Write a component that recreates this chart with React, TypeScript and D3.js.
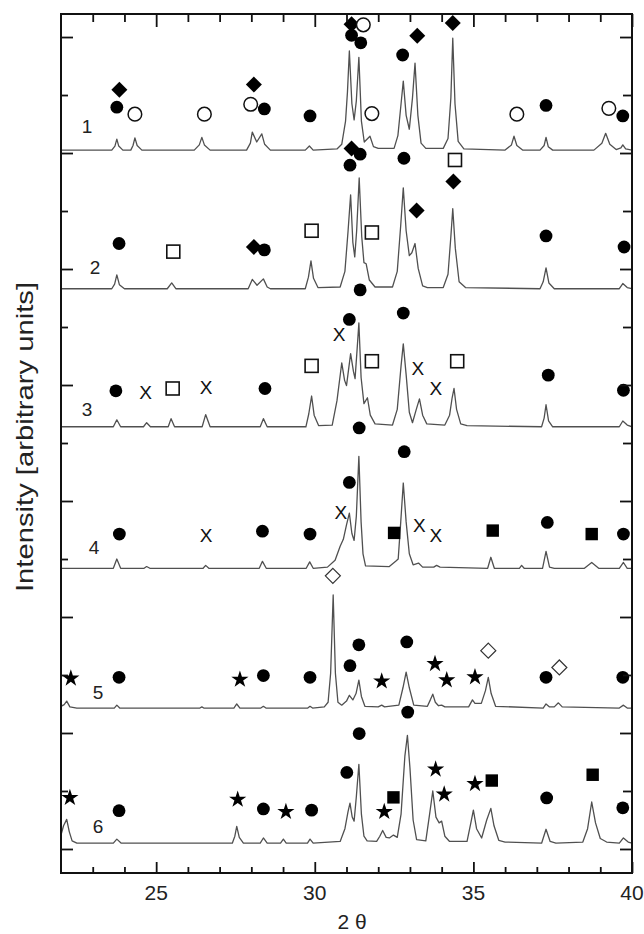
import React, { useEffect, useRef } from 'react';
import * as d3 from 'd3';

// 2 theta axis
const majorTicks = [25, 30, 35, 40];
const minorTicks = [23, 24, 26, 27, 28, 29, 31, 32, 33, 34, 36, 37, 38, 39];
const intensityTicks = d3.range(0, 15);

const sampleNames = ['1', '2', '3', '4', '5', '6'];
const sampleOffsets = [12.05, 9.66, 7.28, 4.84, 2.43, 0.10];
// where the sample number sits [2theta, level]
const sampleLabelPos = [[22.82, 12.45], [23.07, 10.02], [22.82, 7.57], [23.04, 5.19], [23.17, 2.69], [23.17, 0.38]];

// diffractograms, [2theta, intensity above own baseline]
const pattern1 = [
  [22.0, 0], [23.6, 0], [23.7, .07], [23.76, .19], [23.82, .07], [23.95, 0],
  [24.2, 0], [24.27, .08], [24.33, .21], [24.4, .08], [24.55, 0],
  [26.2, 0], [26.36, .09], [26.44, .22], [26.52, .09], [26.7, 0],
  [27.85, 0], [27.97, .12], [28.03, .31], [28.17, .14], [28.33, .28], [28.42, .1], [28.6, 0],
  [29.7, 0], [29.83, .07], [29.95, 0],
  [30.7, .02], [30.85, .1], [30.97, .5], [31.03, 1.0], [31.09, 1.71], [31.17, .8], [31.24, .52], [31.31, .85],
  [31.39, 1.6], [31.47, .5], [31.56, .14], [31.74, .24], [31.85, .06], [32.0, .03],
  [32.5, .03], [32.62, .25], [32.72, .8], [32.79, 1.19], [32.88, .6], [32.98, .36], [33.08, .9], [33.16, 1.5],
  [33.25, .6], [33.35, .12], [33.5, .03],
  [34.05, .03], [34.2, .2], [34.29, .9], [34.35, 1.93], [34.42, .8], [34.52, .15], [34.7, .02],
  [36.0, 0], [36.2, .09], [36.28, .24], [36.37, .08], [36.55, 0],
  [37.1, 0], [37.23, .08], [37.29, .22], [37.36, .06], [37.5, 0],
  [38.8, 0], [39.05, .12], [39.17, .29], [39.3, .1], [39.5, .01], [39.65, .04], [39.71, .09], [39.8, .02], [40, 0],
];
const pattern2 = [
  [22, 0], [23.6, 0], [23.69, .08], [23.76, .24], [23.84, .07], [24.0, 0],
  [25.35, 0], [25.49, .1], [25.62, 0],
  [27.9, 0], [28.03, .16], [28.18, .06], [28.38, .17], [28.5, .03], [28.6, 0],
  [29.7, 0], [29.8, .2], [29.88, .48], [29.96, .18], [30.1, .02],
  [30.8, .03], [30.95, .3], [31.05, 1.0], [31.13, 1.62], [31.2, .8], [31.26, .55], [31.32, 1.0], [31.4, 1.91],
  [31.48, .9], [31.55, .45], [31.62, .43], [31.72, .15], [31.9, .03],
  [32.45, .03], [32.6, .3], [32.71, 1.1], [32.79, 1.74], [32.88, 1.0], [32.98, .57], [33.06, .62], [33.16, .78],
  [33.26, .35], [33.4, .05], [33.55, .02],
  [34.05, .02], [34.2, .25], [34.29, .9], [34.35, 1.38], [34.43, .7], [34.55, .12], [34.75, .02],
  [37.1, 0], [37.2, .12], [37.29, .36], [37.38, .1], [37.55, 0],
  [39.6, 0], [39.71, .09], [39.85, .02], [40, 0],
];
const pattern3 = [
  [22, 0], [23.65, 0], [23.76, .12], [23.88, 0],
  [24.6, 0], [24.7, .07], [24.82, 0],
  [25.38, 0], [25.47, .14], [25.58, 0],
  [26.45, 0], [26.56, .21], [26.7, 0],
  [28.28, 0], [28.38, .14], [28.5, 0],
  [29.72, 0], [29.81, .22], [29.9, .53], [29.98, .2], [30.12, .02],
  [30.55, .03], [30.7, .45], [30.85, 1.1], [30.94, .8], [31.0, .71], [31.13, 1.26], [31.22, .95], [31.27, .83],
  [31.33, 1.3], [31.39, 1.79], [31.46, .85], [31.55, .4], [31.66, .5], [31.75, .2], [31.9, .05],
  [32.45, .03], [32.6, .3], [32.72, 1.05], [32.79, 1.43], [32.88, .9], [32.98, .25], [33.08, .07], [33.2, .3],
  [33.3, .48], [33.4, .2], [33.53, .05],
  [34.1, .03], [34.25, .2], [34.33, .5], [34.39, .66], [34.47, .3], [34.6, .05], [34.8, .02],
  [37.15, 0], [37.23, .15], [37.29, .38], [37.37, .1], [37.5, 0],
  [39.6, 0], [39.71, .1], [39.85, .03], [40, 0],
];
const pattern4 = [
  [22, 0], [23.65, 0], [23.76, .16], [23.88, 0],
  [24.62, 0], [24.7, .03], [24.8, 0],
  [26.48, 0], [26.56, .05], [26.66, 0],
  [28.25, 0], [28.35, .12], [28.47, 0],
  [29.73, 0], [29.84, .11], [29.95, 0],
  [30.4, .02], [30.64, .14], [30.8, .38], [30.9, .5], [31.0, .75], [31.09, .95], [31.17, .6], [31.24, .48],
  [31.31, .9], [31.39, 1.93], [31.46, .8], [31.52, .25], [31.6, .04],
  [32.35, .03], [32.55, .12], [32.63, .16], [32.71, .8], [32.79, 1.47], [32.88, .8], [32.98, .25], [33.1, .06],
  [33.27, .09], [33.4, .02],
  [33.75, .02], [33.84, .05], [33.95, .02],
  [35.45, 0], [35.55, .19], [35.66, 0],
  [36.45, 0], [36.52, .05], [36.6, 0],
  [37.18, 0], [37.29, .29], [37.4, .02], [37.55, 0],
  [38.5, 0], [38.73, .1], [38.95, 0],
  [39.6, 0], [39.73, .1], [39.85, 0], [40, 0],
];
const pattern5 = [
  [22, .03], [22.1, .06], [22.18, .12], [22.28, .02], [22.5, 0],
  [23.68, 0], [23.76, .05], [23.85, 0],
  [26.38, 0], [26.44, .02], [26.5, 0],
  [27.45, 0], [27.54, .07], [27.64, 0],
  [28.3, 0], [28.38, .03], [28.46, 0],
  [29.78, 0], [29.85, .03], [29.93, 0],
  [30.3, .02], [30.42, .1], [30.5, .6], [30.58, 1.95], [30.65, .6], [30.73, .1], [30.85, .05],
  [31.0, .12], [31.09, .22], [31.2, .14], [31.3, .25], [31.39, .48], [31.47, .2], [31.58, .03],
  [32.0, .02], [32.11, .05], [32.2, .02],
  [32.65, .05], [32.78, .35], [32.88, .62], [32.98, .35], [33.12, .05],
  [33.55, .03], [33.65, .15], [33.72, .24], [33.8, .1], [33.9, .04], [34.0, .05], [34.1, .02],
  [34.85, .02], [34.97, .14], [35.05, .08], [35.25, .08], [35.38, .3], [35.47, .53], [35.56, .25], [35.7, .03],
  [37.2, 0], [37.29, .07], [37.4, .02], [37.55, .02], [37.68, .09], [37.8, .02],
  [39.6, 0], [39.73, .05], [39.85, 0], [40, 0],
];
const pattern6 = [
  [22, .14], [22.08, .3], [22.18, .41], [22.26, .2], [22.35, .04], [22.5, 0],
  [23.65, 0], [23.76, .07], [23.9, 0],
  [27.4, 0], [27.48, .12], [27.54, .29], [27.62, .1], [27.75, 0],
  [28.28, 0], [28.38, .09], [28.5, 0],
  [28.92, 0], [29.01, .07], [29.1, 0],
  [29.77, 0], [29.85, .07], [29.95, 0],
  [30.8, .03], [30.95, .25], [31.05, .55], [31.11, .69], [31.18, .45], [31.24, .38], [31.31, .8], [31.39, 1.36],
  [31.47, .5], [31.55, .12], [31.65, .04],
  [31.95, .03], [32.05, .12], [32.14, .22], [32.25, .1], [32.35, .09], [32.48, .14], [32.6, .1],
  [32.72, .5], [32.84, 1.5], [32.92, 1.86], [33.0, 1.3], [33.1, .4], [33.21, .06],
  [33.5, .04], [33.62, .5], [33.72, .9], [33.82, .45], [33.92, .35], [34.0, .38], [34.1, .12], [34.25, .03],
  [34.8, .03], [34.92, .35], [35.0, .57], [35.1, .25], [35.26, .09], [35.42, .4], [35.55, .6], [35.65, .3],
  [35.8, .05], [36.0, .02],
  [37.15, 0], [37.29, .24], [37.42, .03], [37.6, 0],
  [38.45, .02], [38.6, .25], [38.73, .71], [38.85, .35], [39.0, .08], [39.2, .02],
  [39.6, 0], [39.73, .09], [39.88, .02], [40, 0],
];
const patterns = [pattern1, pattern2, pattern3, pattern4, pattern5, pattern6];

// phase markers [symbol, 2theta, level]
// fc filled circle, oc open circle, fd filled diamond, od open diamond,
// os open square, fs filled square, x cross, st star
const markers1 = [
  ['fd', 23.84, 13.09], ['fc', 23.76, 12.79], ['oc', 24.33, 12.67], ['oc', 26.52, 12.67],
  ['oc', 27.98, 12.84], ['fd', 28.08, 13.18], ['fc', 28.41, 12.76], ['fc', 29.85, 12.64],
  ['fd', 31.16, 14.22], ['fc', 31.16, 14.03], ['fc', 31.45, 13.90], ['oc', 31.53, 14.21],
  ['fc', 32.77, 13.69], ['fd', 33.23, 14.02], ['fd', 34.35, 14.24], ['oc', 31.80, 12.68],
  ['oc', 36.37, 12.67], ['fc', 37.29, 12.82], ['oc', 39.27, 12.77], ['fc', 39.71, 12.64],
];
const markers2 = [
  ['fc', 23.83, 10.44], ['os', 25.54, 10.30], ['fd', 28.08, 10.38], ['fc', 28.41, 10.33],
  ['os', 29.90, 10.66], ['fd', 31.16, 12.08], ['fc', 31.43, 11.98], ['fc', 31.11, 11.79],
  ['fc', 32.81, 11.91], ['os', 34.42, 11.88], ['fd', 34.37, 11.51], ['fd', 33.21, 11.01],
  ['os', 31.80, 10.63], ['fc', 37.29, 10.57], ['fc', 39.75, 10.38],
];
const markers3 = [
  ['fc', 31.43, 9.64], ['fc', 31.09, 9.13], ['fc', 32.79, 9.24], ['fc', 23.73, 7.90],
  ['x', 24.67, 7.87], ['os', 25.52, 7.94], ['x', 26.57, 7.96], ['fc', 28.43, 7.94],
  ['os', 29.90, 8.33], ['x', 30.77, 8.87], ['os', 31.80, 8.41], ['x', 33.25, 8.28],
  ['x', 33.82, 7.94], ['os', 34.49, 8.41], ['fc', 37.36, 8.17], ['fc', 39.73, 7.91],
];
const markers4 = [
  ['fc', 31.40, 7.26], ['fc', 32.82, 6.85], ['fc', 31.09, 6.32], ['x', 30.82, 5.80],
  ['fs', 32.50, 5.45], ['x', 33.30, 5.57], ['x', 33.82, 5.40], ['fs', 35.61, 5.49],
  ['fc', 37.33, 5.63], ['fs', 38.73, 5.43], ['fc', 39.73, 5.43], ['fc', 23.84, 5.43],
  ['x', 26.57, 5.40], ['fc', 28.35, 5.48], ['fc', 29.85, 5.43],
];
const markers5 = [
  ['od', 30.57, 4.71], ['st', 22.31, 2.96], ['fc', 23.83, 2.96], ['st', 27.64, 2.94],
  ['fc', 28.38, 2.99], ['fc', 29.85, 2.96], ['fc', 31.39, 3.52], ['fc', 32.90, 3.57],
  ['fc', 31.11, 3.16], ['st', 32.11, 2.91], ['st', 33.79, 3.21], ['st', 34.16, 2.93],
  ['st', 35.05, 2.98], ['od', 35.47, 3.42], ['fc', 37.29, 2.96], ['od', 37.71, 3.13],
  ['fc', 39.71, 2.96],
];
const markers6 = [
  ['st', 22.28, 0.90], ['fc', 23.83, 0.66], ['st', 27.57, 0.87], ['fc', 28.38, 0.69],
  ['st', 29.09, 0.66], ['fc', 29.90, 0.67], ['fc', 32.93, 2.36], ['fc', 31.40, 1.99],
  ['fc', 31.01, 1.32], ['fs', 32.48, 0.89], ['st', 32.19, 0.66], ['st', 33.81, 1.39],
  ['st', 34.08, 0.96], ['st', 35.05, 1.14], ['fs', 35.58, 1.18], ['fc', 37.31, 0.88],
  ['fs', 38.76, 1.28], ['fc', 39.71, 0.71],
];
const allMarkers = [...markers1, ...markers2, ...markers3, ...markers4, ...markers5, ...markers6];

const FONT = '"Liberation Sans", Arial, Helvetica, sans-serif';

export default function App() {
  const svgRef = useRef(null);

  useEffect(() => {
    const svg = d3.select(svgRef.current);
    svg.selectAll('*').remove();

    const left = 61, right = 632, top = 14, bottom = 873;
    const x = d3.scaleLinear().domain([22, 40]).range([left, right]);
    const y = d3.scaleLinear().domain([-0.414, 14.397]).range([bottom, top]);

    svg.append('rect').attr('width', 644).attr('height', 934).attr('fill', '#fff');

    svg.append('defs').append('clipPath').attr('id', 'plot')
      .append('rect').attr('x', left).attr('y', top).attr('width', right - left).attr('height', bottom - top);

    // traces
    const line = d3.line();
    const traces = svg.append('g').attr('clip-path', 'url(#plot)');
    patterns.forEach((pts, i) => {
      const off = sampleOffsets[i];
      traces.append('path')
        .attr('d', line(pts.map(p => [x(p[0]), y(p[1] + off)])))
        .attr('fill', 'none')
        .attr('stroke', '#505050')
        .attr('stroke-width', 1.3)
        .attr('stroke-linejoin', 'round');
    });

    // sample numbers
    svg.append('g').selectAll('text')
      .data(sampleNames)
      .enter().append('text')
      .attr('x', (d, i) => x(sampleLabelPos[i][0]))
      .attr('y', (d, i) => y(sampleLabelPos[i][1]))
      .attr('text-anchor', 'middle')
      .attr('dominant-baseline', 'central')
      .style('font-family', FONT)
      .style('font-size', '19px')
      .style('fill', '#222')
      .text(d => d);

    // markers
    const mg = svg.append('g');
    const star = d3.symbol().type(d3.symbolStar).size(92)();
    allMarkers.forEach(([t, tt, lv]) => {
      const cx = x(tt), cy = y(lv);
      if (t === 'fc') {
        mg.append('circle').attr('cx', cx).attr('cy', cy).attr('r', 6.4).attr('fill', '#000');
      } else if (t === 'oc') {
        mg.append('circle').attr('cx', cx).attr('cy', cy).attr('r', 6.8)
          .attr('fill', '#fff').attr('stroke', '#111').attr('stroke-width', 1.5);
      } else if (t === 'fd') {
        mg.append('path').attr('transform', `translate(${cx},${cy})`)
          .attr('d', 'M0,-8L8,0L0,8L-8,0Z').attr('fill', '#000');
      } else if (t === 'od') {
        mg.append('path').attr('transform', `translate(${cx},${cy})`)
          .attr('d', 'M0,-7.5L7.5,0L0,7.5L-7.5,0Z')
          .attr('fill', '#fff').attr('stroke', '#333').attr('stroke-width', 1.2);
      } else if (t === 'os') {
        mg.append('rect').attr('x', cx - 6.5).attr('y', cy - 6.5).attr('width', 13).attr('height', 13)
          .attr('fill', '#fff').attr('stroke', '#111').attr('stroke-width', 1.6);
      } else if (t === 'fs') {
        mg.append('rect').attr('x', cx - 6.2).attr('y', cy - 6.2).attr('width', 12.4).attr('height', 12.4)
          .attr('fill', '#000');
      } else if (t === 'st') {
        mg.append('path').attr('transform', `translate(${cx},${cy + 1})`).attr('d', star).attr('fill', '#000');
      } else if (t === 'x') {
        mg.append('text').attr('x', cx).attr('y', cy)
          .attr('text-anchor', 'middle').attr('dominant-baseline', 'central')
          .style('font-family', FONT).style('font-size', '19px').style('fill', '#111')
          .text('X');
      }
    });

    // ticks, all pointing inward
    const tickStyle = g => {
      g.select('.domain').remove();
      g.selectAll('line').attr('stroke', '#111').attr('stroke-width', 1.8);
      g.selectAll('text').remove();
    };
    svg.append('g').attr('transform', `translate(0,${bottom})`)
      .call(d3.axisBottom(x).tickValues(minorTicks).tickSize(-6)).call(tickStyle);
    svg.append('g').attr('transform', `translate(0,${bottom})`)
      .call(d3.axisBottom(x).tickValues(majorTicks).tickSize(-11)).call(tickStyle);
    svg.append('g').attr('transform', `translate(0,${top})`)
      .call(d3.axisTop(x).tickValues(minorTicks).tickSize(-8)).call(tickStyle);
    svg.append('g').attr('transform', `translate(0,${top})`)
      .call(d3.axisTop(x).tickValues(majorTicks).tickSize(-13)).call(tickStyle);
    const evenT = intensityTicks.filter(v => v % 2 === 0);
    const oddT = intensityTicks.filter(v => v % 2 === 1);
    svg.append('g').attr('transform', `translate(${left},0)`)
      .call(d3.axisLeft(y).tickValues(evenT).tickSize(-12)).call(tickStyle);
    svg.append('g').attr('transform', `translate(${left},0)`)
      .call(d3.axisLeft(y).tickValues(oddT).tickSize(-7)).call(tickStyle);
    svg.append('g').attr('transform', `translate(${right},0)`)
      .call(d3.axisRight(y).tickValues(evenT).tickSize(-12)).call(tickStyle);
    svg.append('g').attr('transform', `translate(${right},0)`)
      .call(d3.axisRight(y).tickValues(oddT).tickSize(-9)).call(tickStyle);

    // frame
    svg.append('rect')
      .attr('x', left).attr('y', top).attr('width', right - left).attr('height', bottom - top)
      .attr('fill', 'none').attr('stroke', '#111').attr('stroke-width', 2);

    // x tick labels
    svg.append('g').selectAll('text')
      .data(majorTicks)
      .enter().append('text')
      .attr('x', d => x(d))
      .attr('y', 900)
      .attr('text-anchor', 'middle')
      .style('font-family', FONT)
      .style('font-size', '21px')
      .style('fill', '#222')
      .text(d => d);

    // axis titles
    svg.append('text')
      .attr('x', 352).attr('y', 929)
      .attr('text-anchor', 'middle')
      .style('font-family', FONT).style('font-size', '21px').style('fill', '#222')
      .text('2 θ');

    svg.append('text')
      .attr('transform', 'rotate(-90)')
      .attr('x', -437).attr('y', 33)
      .attr('text-anchor', 'middle')
      .attr('textLength', 310)
      .attr('lengthAdjust', 'spacingAndGlyphs')
      .style('font-family', FONT).style('font-size', '24px').style('fill', '#222')
      .text('Intensity [arbitrary units]');
  }, []);

  return (
    <svg ref={svgRef} width={644} height={934}
      style={{ position: 'absolute', left: 0, top: 0, display: 'block' }}></svg>
  );
}
